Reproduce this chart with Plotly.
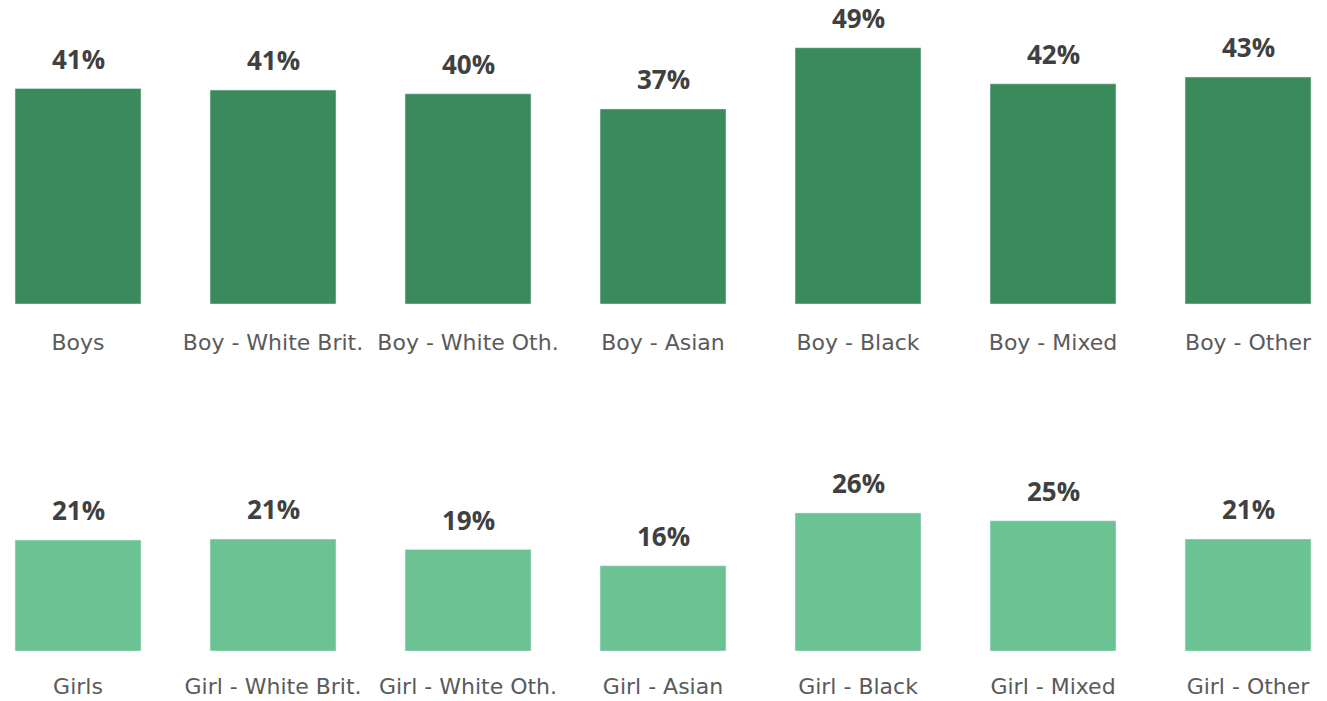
import plotly.graph_objects as go
from plotly.subplots import make_subplots

# Share of pupils, by sex and ethnic group (%)
boy_labels = ["Boys", "Boy - White Brit.", "Boy - White Oth.", "Boy - Asian",
              "Boy - Black", "Boy - Mixed", "Boy - Other"]
boy_values = [41.2, 40.9, 40.2, 37.3, 49.0, 42.1, 43.4]

girl_labels = ["Girls", "Girl - White Brit.", "Girl - White Oth.", "Girl - Asian",
               "Girl - Black", "Girl - Mixed", "Girl - Other"]
girl_values = [21.2, 21.4, 19.4, 16.3, 26.4, 24.9, 21.4]

BOY_COLOR = "#3a8a5c"
GIRL_COLOR = "#6bc394"
VALUE_COLOR = "#404040"
LABEL_COLOR = "#5a5a5a"
VALUE_FONT = "Open Sans"
LABEL_FONT = "DejaVu Sans"

W, H = 1327, 701
PX_PER_PCT = 5.23

fig = make_subplots(rows=2, cols=1, vertical_spacing=0)

fig.add_trace(go.Bar(x=boy_labels, y=boy_values, marker_color=BOY_COLOR,
                     width=0.646, hoverinfo="x+y"), row=1, col=1)
fig.add_trace(go.Bar(x=girl_labels, y=girl_values, marker_color=GIRL_COLOR,
                     width=0.646, hoverinfo="x+y"), row=2, col=1)

# value labels above each bar
for xref, yref, labels, values in (("x", "y", boy_labels, boy_values),
                                   ("x2", "y2", girl_labels, girl_values)):
    for lab, val in zip(labels, values):
        fig.add_annotation(x=lab, y=val, xref=xref, yref=yref,
                           text=f"<b>{val:.0f}%</b>", showarrow=False,
                           yanchor="bottom", yshift=11, borderpad=0,
                           font=dict(family=VALUE_FONT, size=26, color=VALUE_COLOR))

# pixel-based layout of the two panels
top_base, top_top = 304, 0
bot_base, bot_top = 651, 400
fig.update_layout(
    yaxis=dict(domain=[(H - top_base) / H, (H - top_top) / H],
               range=[0, (top_base - top_top) / PX_PER_PCT]),
    yaxis2=dict(domain=[(H - bot_base) / H, (H - bot_top) / H],
                range=[0, (bot_base - bot_top) / PX_PER_PCT]),
)
fig.update_yaxes(visible=False, fixedrange=True, automargin=False)
fig.update_xaxes(range=[-0.4, 6.405], showgrid=False, zeroline=False,
                 showline=False, ticks="", automargin=False,
                 tickfont=dict(family=LABEL_FONT, size=22, color=LABEL_COLOR))
fig.update_xaxes(ticklabelstandoff=23, row=1, col=1)
fig.update_xaxes(ticklabelstandoff=20, row=2, col=1)

fig.update_layout(
    width=W, height=H,
    margin=dict(l=0, r=0, t=0, b=0, autoexpand=False),
    paper_bgcolor="white", plot_bgcolor="white",
    showlegend=False, bargap=0.35,
)

fig.write_html("out.html")
